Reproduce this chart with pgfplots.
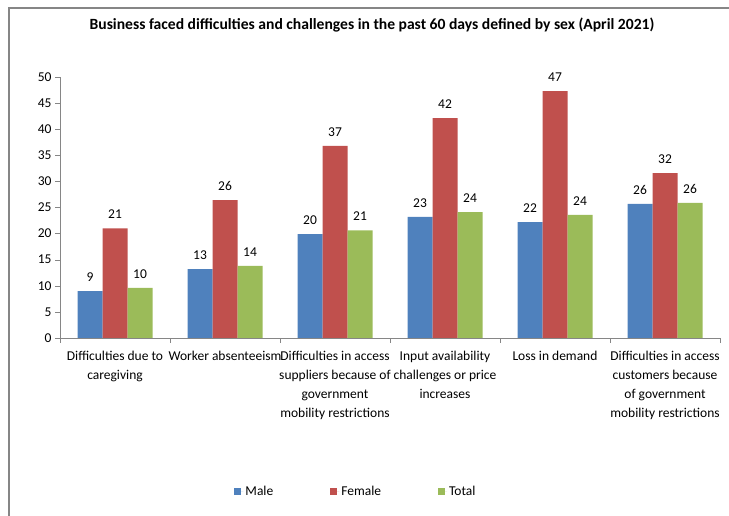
\documentclass[border=0pt]{standalone}
\usepackage{pgfplots}
\pgfplotsset{compat=1.18}
\usepackage{fontspec}
\setmainfont{Carlito}
\definecolor{male}{HTML}{4F81BD}
\definecolor{female}{HTML}{C0504D}
\definecolor{total}{HTML}{9BBB59}
\definecolor{axgray}{HTML}{868686}
\begin{document}
\begin{tikzpicture}[x=1pt,y=1pt]
\useasboundingbox (0,0) rectangle (729,516);
\draw[axgray, line width=2pt] (9,0) -- (9,508) -- (729,508);
\node[font=\fontsize{15.6}{18}\selectfont\bfseries] at (372,491) {Business faced difficulties and challenges in the past 60 days defined by sex (April 2021)};
\begin{axis}[
  at={(60pt,178pt)}, anchor=south west,
  scale only axis, width=660pt, height=261pt,
  ybar=0pt, bar width=25pt,
  xmin=-0.5, xmax=5.5, ymin=0, ymax=50,
  ytick={0,5,...,50},
  xtick={0,1,2,3,4,5},
  xticklabels={{Difficulties due to\\caregiving},{Worker absenteeism},{Difficulties in access\\suppliers because of\\government\\mobility restrictions},{Input availability\\challenges or price\\increases},{Loss in demand},{Difficulties in access\\customers because\\of government\\mobility restrictions}},
  x tick label style={align=center, font=\fontsize{13.5}{19}\selectfont, yshift=-5pt},
  y tick label style={font=\fontsize{13.5}{16}\selectfont},
  major x tick style={draw=none},
  minor xtick={-0.5,0.5,...,5.5},
  minor x tick style={axgray},
  minor tick length=5pt,
  major tick length=5pt,
  tick align=outside,
  y tick style={axgray},
  axis x line*=bottom, axis y line*=left,
  axis line style={axgray, -},
  /pgf/number format/assume math mode=true,
  nodes near coords={\pgfmathprintnumber[fixed,precision=0]{\pgfplotspointmeta}},
  every node near coord/.append style={font=\fontsize{13.5}{16}\selectfont, black, yshift=6pt},
  legend columns=3,
  legend style={at={(0.5,0)}, anchor=center, yshift=-154pt, xshift=-34pt, draw=none, font=\fontsize{13.5}{16}\selectfont, /tikz/every even column/.append style={column sep=55pt}},
  legend image code/.code={\path[#1] (0pt,-3.5pt) rectangle (7pt,3.5pt); \path (0pt,0pt) -- (9pt,0pt);},
]
\addplot[fill=male, draw=none] coordinates {(0,9.0) (1,13.2) (2,19.9) (3,23.2) (4,22.2) (5,25.7)};
\addplot[fill=female, draw=none] coordinates {(0,21.0) (1,26.4) (2,36.8) (3,42.1) (4,47.3) (5,31.6)};
\addplot[fill=total, draw=none] coordinates {(0,9.6) (1,13.8) (2,20.6) (3,24.1) (4,23.6) (5,25.9)};
\legend{Male,Female\hspace{16pt},Total}
\end{axis}
\end{tikzpicture}
\end{document}
